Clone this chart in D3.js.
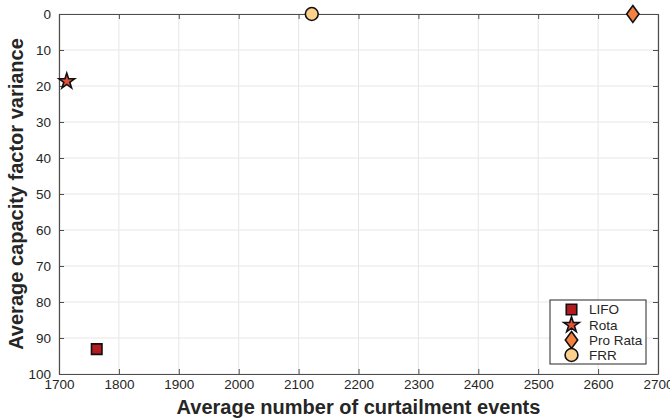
<!DOCTYPE html>
<html><head><meta charset="utf-8">
<script src="https://cdn.jsdelivr.net/npm/d3@7"></script>
<style>body{margin:0;background:#fff}svg{display:block;font-family:"Liberation Sans",Arial,sans-serif}</style>
</head><body><svg id="c" width="670" height="420"></svg>
<script>
const series = ["LIFO","Rota","Pro Rata","FRR"];
const xValues = [1763, 1713, 2658, 2122];
const yValues = [93.1, 18.7, 0, 0];
const fills = ["#b31b1f","#e5503a","#f28040","#fdd08c"];
const shapes = [d3.symbolSquare, d3.symbolStar, "diamond", d3.symbolCircle];
const sizes = [110, 75, 0, 130];
const xTicks = [1700,1800,1900,2000,2100,2200,2300,2400,2500,2600,2700];
const yTicks = [0,10,20,30,40,50,60,70,80,90,100];

const svg = d3.select("#c");
const L=59,R=658,T=14,B=374;
const x = d3.scaleLinear().domain([1700,2700]).range([L,R]);
const y = d3.scaleLinear().domain([0,100]).range([T,B]);
const axCol="#4d4d4d", txtCol="#262626";

// grid
svg.append("g").selectAll("line.gx").data(xTicks).join("line")
 .attr("x1",d=>x(d)).attr("x2",d=>x(d)).attr("y1",T).attr("y2",B)
 .attr("stroke","#e6e6e6").attr("stroke-width",1);
svg.append("g").selectAll("line.gy").data(yTicks).join("line")
 .attr("y1",d=>y(d)).attr("y2",d=>y(d)).attr("x1",L).attr("x2",R)
 .attr("stroke","#e6e6e6").attr("stroke-width",1);

// axes
const xb = svg.append("g").attr("transform",`translate(0,${B})`)
 .call(d3.axisBottom(x).tickValues(xTicks).tickSizeInner(-5).tickSizeOuter(0).tickPadding(8).tickFormat(d3.format("d")));
const xt = svg.append("g").attr("transform",`translate(0,${T})`)
 .call(d3.axisTop(x).tickValues(xTicks).tickSizeInner(-5).tickSizeOuter(0).tickFormat(""));
const yl = svg.append("g").attr("transform",`translate(${L},0)`)
 .call(d3.axisLeft(y).tickValues(yTicks).tickSizeInner(-5).tickSizeOuter(0).tickPadding(8));
const yr = svg.append("g").attr("transform",`translate(${R},0)`)
 .call(d3.axisRight(y).tickValues(yTicks).tickSizeInner(-5).tickSizeOuter(0).tickFormat(""));
[xb,xt,yl,yr].forEach(g=>{
  g.selectAll("path").attr("stroke",axCol).attr("stroke-width",1.2);
  g.selectAll("line").attr("stroke",axCol).attr("stroke-width",1);
  g.selectAll("text").attr("fill",txtCol).attr("font-size",13.5).attr("font-family","Liberation Sans, Arial, sans-serif");
});
xb.selectAll("text").attr("dy","0.55em");

// titles
svg.append("text").attr("x",(L+R)/2).attr("y",414).attr("text-anchor","middle")
 .attr("font-size",20).attr("font-weight","bold").attr("fill",txtCol).text("Average number of curtailment events");
svg.append("text").attr("transform",`translate(23,${(T+B)/2}) rotate(-90)`).attr("text-anchor","middle")
 .attr("font-size",20).attr("font-weight","bold").attr("fill",txtCol).text("Average capacity factor variance");

function symPath(i){
  if(shapes[i]==="diamond") return "M0,-8.5L6.2,0L0,8.5L-6.2,0Z";
  return d3.symbol().type(shapes[i]).size(sizes[i])();
}

// points
svg.append("g").selectAll("path").data(series).join("path")
 .attr("d",(d,i)=>symPath(i))
 .attr("transform",(d,i)=>`translate(${x(xValues[i])},${y(yValues[i])})`)
 .attr("fill",(d,i)=>fills[i]).attr("stroke","#111").attr("stroke-width",1.6);

// legend
const lg = svg.append("g");
lg.append("rect").attr("x",550).attr("y",300).attr("width",96).attr("height",64)
 .attr("fill","#fff").attr("stroke","#262626").attr("stroke-width",1);
const ly = [309.5,325,340,355];
series.forEach((s,i)=>{
  lg.append("path").attr("d",symPath(i)).attr("transform",`translate(571.5,${ly[i]})`)
   .attr("fill",fills[i]).attr("stroke","#111").attr("stroke-width",1.6);
  lg.append("text").attr("x",589).attr("y",ly[i]).attr("dy","0.35em")
   .attr("font-size",13.5).attr("fill",txtCol).text(s);
});
</script></body></html>
